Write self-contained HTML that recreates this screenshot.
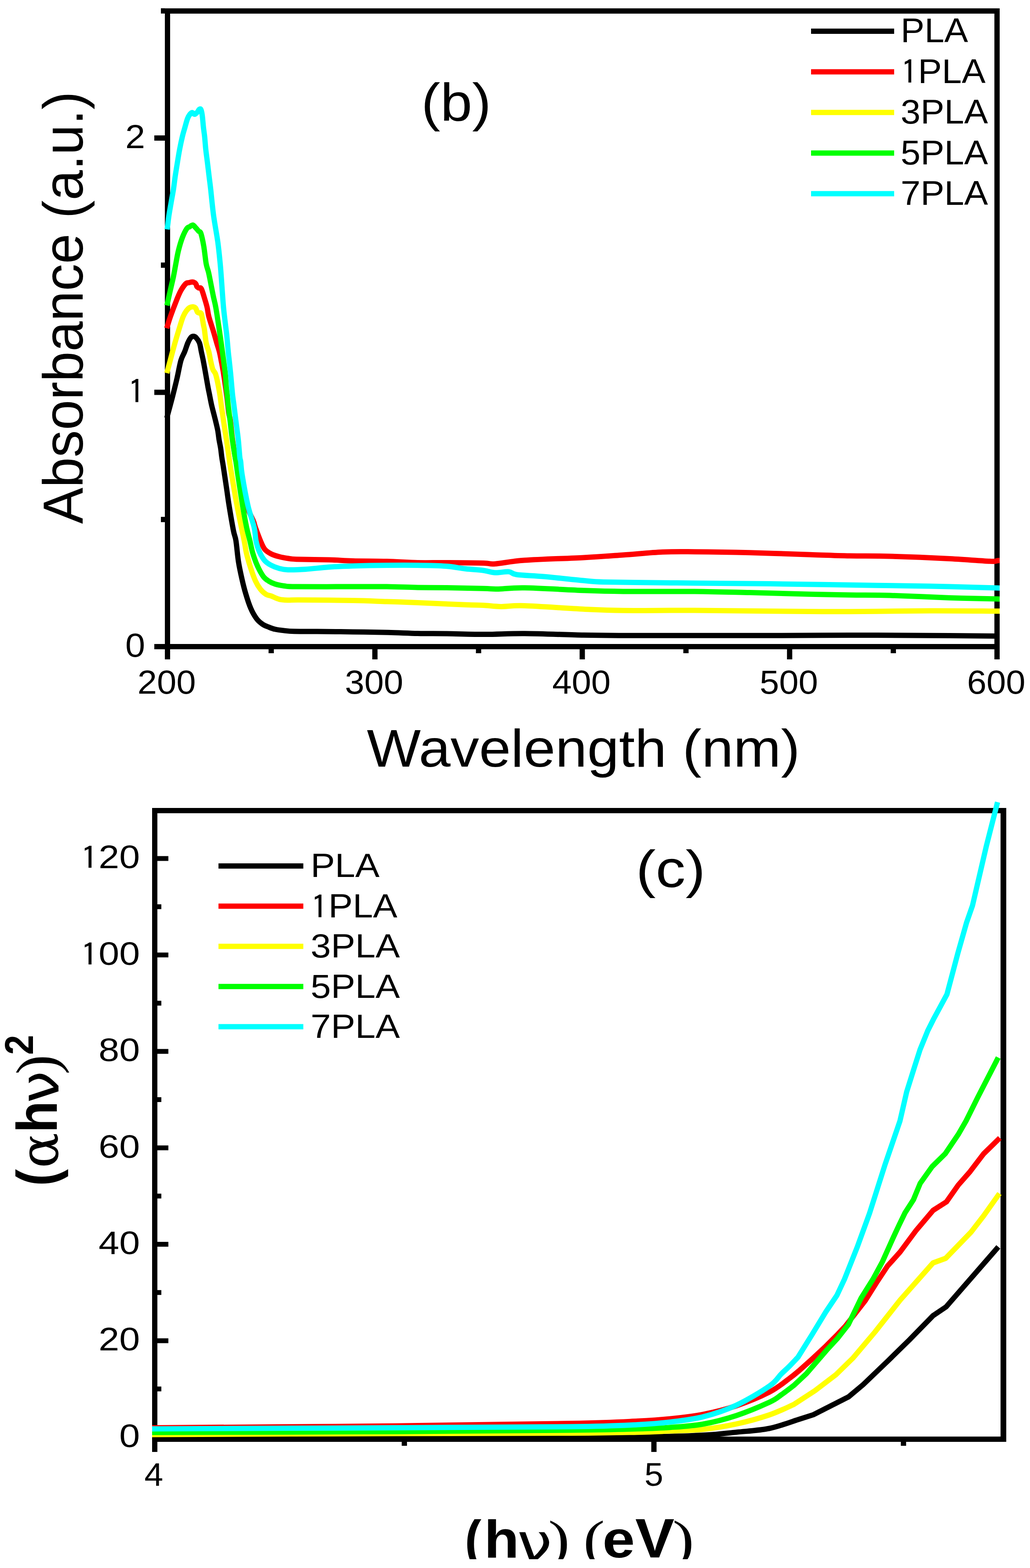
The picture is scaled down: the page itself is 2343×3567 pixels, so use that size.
<!DOCTYPE html><html><head><meta charset="utf-8"><title>UV-Vis absorbance and Tauc plot</title><style>
html,body{margin:0;padding:0;background:#fff;}svg{display:block;}
svg{font-family:'Liberation Sans', Arial, sans-serif;}
.ln{fill:none;stroke-width:12;stroke-linejoin:round;stroke-linecap:square;}
</style></head><body>
<svg width="2343" height="3567" viewBox="0 0 2343 3567">
<rect x="0" y="0" width="2343" height="3567" fill="#fff"/>
<g id="chart-b">
<g fill="#000">
<rect x="375" y="19" width="1899" height="12"/>
<rect x="375" y="19" width="12" height="1458"/>
<rect x="2262" y="19" width="12" height="1458"/>
<rect x="375" y="1465" width="1899" height="12"/>
<rect x="375.0" y="1477" width="12" height="23"/>
<rect x="610.9" y="1477" width="12" height="9"/>
<rect x="846.8" y="1477" width="12" height="23"/>
<rect x="1082.6" y="1477" width="12" height="9"/>
<rect x="1318.5" y="1477" width="12" height="23"/>
<rect x="1554.4" y="1477" width="12" height="9"/>
<rect x="1790.2" y="1477" width="12" height="23"/>
<rect x="2026.1" y="1477" width="12" height="9"/>
<rect x="2262.0" y="1477" width="12" height="23"/>
<rect x="351" y="1465.0" width="24" height="12"/>
<rect x="366" y="1175.8" width="9" height="12"/>
<rect x="351" y="886.5" width="24" height="12"/>
<rect x="366" y="597.2" width="9" height="12"/>
<rect x="351" y="308.0" width="24" height="12"/>
<rect x="366" y="18.8" width="9" height="12"/>
</g>
<path class="ln" stroke="#000000" d="M381.0,945.0C383.0,937.5 389.4,914.2 393.0,900.0C396.6,885.8 399.7,873.3 402.8,860.0C405.9,846.7 408.6,830.0 411.5,820.0C414.4,810.0 417.5,806.7 420.1,800.0C422.7,793.3 425.0,785.3 427.3,780.0C429.6,774.7 431.9,770.5 434.0,768.0C436.1,765.5 438.0,765.0 440.0,765.0C442.0,765.0 443.7,765.5 446.0,768.0C448.3,770.5 451.7,774.7 453.7,780.0C455.7,785.3 456.6,793.3 458.0,800.0C459.4,806.7 461.0,813.3 462.3,820.0C463.6,826.7 464.8,833.3 466.0,840.0C467.2,846.7 468.3,853.3 469.5,860.0C470.7,866.7 471.8,873.3 473.0,880.0C474.2,886.7 475.7,893.3 477.0,900.0C478.3,906.7 479.5,913.3 481.0,920.0C482.5,926.7 484.3,933.3 486.0,940.0C487.7,946.7 489.4,953.3 491.0,960.0C492.6,966.7 494.3,973.3 495.5,980.0C496.7,986.7 497.2,993.3 498.3,1000.0C499.4,1006.7 501.0,1013.3 502.0,1020.0C503.0,1026.7 503.7,1034.2 504.5,1040.0C505.3,1045.8 505.9,1048.3 507.0,1055.0C508.1,1061.7 509.3,1070.0 510.8,1080.0C512.3,1090.0 514.3,1103.3 516.0,1115.0C517.7,1126.7 518.6,1134.7 521.1,1150.0C523.6,1165.3 528.4,1193.7 531.0,1207.0C533.6,1220.3 534.8,1218.2 536.7,1230.0C538.6,1241.8 540.2,1263.6 542.5,1278.0C544.8,1292.4 547.5,1304.4 550.2,1316.4C552.9,1328.4 555.4,1338.8 558.8,1350.0C562.1,1361.2 566.1,1374.0 570.3,1383.6C574.4,1393.2 579.2,1401.4 583.7,1407.5C588.2,1413.6 592.6,1416.8 597.2,1420.0C601.9,1423.2 606.8,1424.8 611.6,1426.7C616.4,1428.6 620.4,1430.2 626.0,1431.5C631.6,1432.8 638.0,1433.6 645.2,1434.4C652.4,1435.2 656.4,1436.0 669.2,1436.3C682.0,1436.6 699.7,1436.3 721.9,1436.5C744.1,1436.7 775.6,1437.1 802.5,1437.5C829.4,1437.9 858.4,1438.2 883.0,1438.8C907.6,1439.4 928.2,1440.5 950.0,1441.0C971.8,1441.5 988.4,1441.2 1014.0,1441.5C1039.7,1441.8 1074.0,1443.0 1103.9,1443.0C1133.8,1443.0 1156.2,1440.9 1193.5,1441.2C1230.8,1441.5 1290.5,1444.0 1327.8,1444.8C1365.1,1445.5 1375.4,1445.5 1417.4,1445.7C1459.4,1445.9 1524.3,1445.7 1580.0,1445.7C1635.7,1445.7 1692.8,1445.9 1751.7,1445.8C1810.6,1445.7 1872.9,1444.9 1933.4,1444.9C1994.0,1444.9 2059.2,1445.5 2115.0,1445.8C2170.8,1446.1 2242.5,1446.8 2268.0,1447.0"/>
<path class="ln" stroke="#ff0000" d="M381.0,741.0C382.1,737.5 384.1,730.2 387.7,720.0C391.3,709.8 398.8,690.0 402.8,680.0C406.9,670.0 408.6,665.8 412.0,660.0C415.4,654.2 420.0,647.8 423.0,645.0C426.0,642.2 427.5,643.6 430.0,643.0C432.5,642.4 435.5,641.2 438.0,641.5C440.5,641.8 443.3,643.2 445.0,645.0C446.7,646.8 446.8,650.3 448.0,652.0C449.2,653.7 450.3,654.2 452.0,655.0C453.7,655.8 455.7,652.8 458.0,657.0C460.3,661.2 463.5,672.8 465.7,680.0C467.9,687.2 469.8,693.3 471.3,700.0C472.9,706.7 472.6,710.8 475.0,720.0C477.4,729.2 482.8,745.0 485.8,755.0C488.8,765.0 490.8,772.5 493.0,780.0C495.2,787.5 497.3,793.3 499.0,800.0C500.7,806.7 501.5,811.7 503.1,820.0C504.7,828.3 506.5,836.7 508.6,850.0C510.7,863.3 513.7,885.0 515.7,900.0C517.7,915.0 519.0,930.7 520.4,940.0C521.8,949.3 522.6,946.0 524.0,956.0C525.4,966.0 526.8,984.3 529.0,1000.0C531.2,1015.7 533.5,1033.3 537.0,1050.0C540.5,1066.7 546.0,1083.3 550.0,1100.0C554.0,1116.7 556.6,1135.8 561.0,1150.0C565.4,1164.2 573.0,1176.7 576.3,1185.0C579.6,1193.3 578.3,1192.5 581.0,1200.0C583.7,1207.5 588.9,1221.8 592.4,1230.0C595.9,1238.2 598.0,1244.2 602.0,1249.2C606.0,1254.2 610.8,1256.9 616.4,1259.8C622.0,1262.7 629.2,1264.8 635.6,1266.5C642.0,1268.2 648.4,1269.3 654.8,1270.3C661.2,1271.2 658.4,1271.7 674.0,1272.2C689.6,1272.7 727.3,1272.9 748.7,1273.5C770.1,1274.1 780.6,1275.4 802.5,1276.0C824.4,1276.6 855.4,1276.3 880.0,1277.0C904.6,1277.7 927.6,1279.5 950.0,1280.0C972.4,1280.5 989.3,1279.8 1014.3,1280.0C1039.3,1280.2 1081.3,1280.5 1100.0,1281.0C1118.7,1281.5 1110.7,1283.8 1126.3,1282.7C1141.9,1281.6 1159.9,1277.0 1193.5,1274.6C1227.1,1272.2 1290.5,1270.4 1327.8,1268.4C1365.1,1266.4 1387.5,1264.6 1417.4,1262.5C1447.3,1260.4 1479.9,1257.0 1507.0,1255.8C1534.1,1254.6 1546.8,1255.0 1580.0,1255.2C1613.2,1255.4 1662.5,1256.1 1706.3,1257.2C1750.1,1258.3 1804.8,1260.6 1842.6,1261.8C1880.4,1263.0 1903.1,1263.9 1933.4,1264.5C1963.7,1265.1 1986.5,1264.3 2024.3,1265.4C2062.2,1266.5 2122.7,1269.0 2160.5,1270.9C2198.3,1272.8 2233.5,1276.0 2251.4,1276.8C2269.3,1277.6 2265.2,1275.7 2268.0,1275.5"/>
<path class="ln" stroke="#ffff00" d="M381.0,843.0C382.0,839.2 384.4,830.5 387.2,820.0C390.0,809.5 394.2,793.3 398.0,780.0C401.8,766.7 406.9,750.0 410.0,740.0C413.1,730.0 414.4,725.5 416.7,720.0C419.0,714.5 421.6,710.3 424.0,707.0C426.4,703.7 428.5,701.5 431.0,700.0C433.5,698.5 436.7,697.8 439.0,698.0C441.3,698.2 443.3,699.0 445.0,701.0C446.7,703.0 447.7,708.2 449.0,710.0C450.3,711.8 451.5,711.3 453.0,712.0C454.5,712.7 456.3,709.3 458.0,714.0C459.7,718.7 461.8,734.0 463.0,740.0C464.2,746.0 464.1,743.3 465.1,750.0C466.1,756.7 467.4,771.7 469.0,780.0C470.6,788.3 473.3,793.3 475.0,800.0C476.7,806.7 477.5,813.3 479.0,820.0C480.5,826.7 482.2,835.0 484.0,840.0C485.8,845.0 488.3,845.8 490.0,850.0C491.7,854.2 492.8,860.0 494.0,865.0C495.2,870.0 495.9,874.2 497.0,880.0C498.1,885.8 499.5,893.3 500.5,900.0C501.5,906.7 502.2,913.3 503.1,920.0C504.0,926.7 505.0,933.3 506.0,940.0C507.0,946.7 507.9,953.3 508.9,960.0C509.9,966.7 511.0,973.3 512.0,980.0C513.0,986.7 514.1,993.3 515.1,1000.0C516.1,1006.7 517.0,1013.3 518.0,1020.0C519.0,1026.7 520.1,1034.2 520.9,1040.0C521.7,1045.8 522.0,1048.3 523.0,1055.0C524.0,1061.7 524.4,1064.2 527.1,1080.0C529.8,1095.8 534.4,1125.0 539.1,1150.0C543.8,1175.0 551.8,1211.9 555.4,1230.0C559.0,1248.1 558.2,1248.4 560.7,1258.8C563.2,1269.2 566.9,1282.0 570.3,1292.4C573.7,1302.8 577.2,1313.2 580.9,1321.2C584.6,1329.2 588.4,1335.3 592.4,1340.4C596.4,1345.5 600.9,1349.4 604.9,1351.9C608.9,1354.5 611.3,1353.8 616.4,1355.7C621.5,1357.6 629.2,1361.8 635.6,1363.4C642.0,1365.0 647.4,1365.1 654.8,1365.3C662.2,1365.5 655.4,1364.7 680.0,1364.8C704.6,1364.9 769.2,1365.4 802.5,1366.0C835.8,1366.6 855.4,1367.7 880.0,1368.5C904.6,1369.3 920.2,1369.8 950.0,1371.0C979.8,1372.2 1034.0,1374.8 1059.0,1375.8C1084.0,1376.8 1086.5,1376.3 1100.0,1377.0C1113.5,1377.7 1124.1,1379.7 1139.7,1379.9C1155.3,1380.1 1162.2,1377.0 1193.5,1378.0C1224.8,1379.0 1290.5,1383.9 1327.8,1385.7C1365.1,1387.5 1375.4,1388.3 1417.4,1388.8C1459.4,1389.3 1524.3,1388.2 1580.0,1388.5C1635.7,1388.8 1692.8,1389.8 1751.7,1390.3C1810.6,1390.8 1872.9,1391.4 1933.4,1391.3C1994.0,1391.2 2059.2,1389.6 2115.0,1389.4C2170.8,1389.2 2242.5,1390.2 2268.0,1390.3"/>
<path class="ln" stroke="#00ff00" d="M381.0,689.0C382.1,684.2 385.3,669.8 387.5,660.0C389.7,650.2 392.3,640.0 394.4,630.0C396.5,620.0 398.1,610.0 400.0,600.0C401.9,590.0 403.4,580.0 405.9,570.0C408.4,560.0 411.8,548.3 415.0,540.0C418.2,531.7 422.2,524.0 424.9,520.0C427.6,516.0 428.7,517.3 431.0,516.0C433.3,514.7 436.3,511.5 438.8,512.0C441.3,512.5 443.8,516.7 446.0,519.0C448.2,521.3 450.2,524.0 452.0,526.0C453.8,528.0 455.1,525.3 457.0,531.0C458.9,536.7 461.5,548.5 463.5,560.0C465.5,571.5 467.2,590.0 469.0,600.0C470.8,610.0 472.6,611.7 474.5,620.0C476.4,628.3 478.7,640.8 480.5,650.0C482.3,659.2 483.8,666.7 485.5,675.0C487.2,683.3 488.8,687.5 491.0,700.0C493.2,712.5 496.3,733.3 498.8,750.0C501.3,766.7 503.6,783.3 505.9,800.0C508.2,816.7 511.0,836.7 512.5,850.0C514.0,863.3 514.0,871.7 514.8,880.0C515.5,888.3 516.3,893.3 517.0,900.0C517.7,906.7 517.8,910.0 518.9,920.0C520.0,930.0 522.1,946.7 523.7,960.0C525.3,973.3 526.6,986.7 528.5,1000.0C530.4,1013.3 533.4,1031.7 534.8,1040.0C536.2,1048.3 535.7,1043.3 536.7,1050.0C537.7,1056.7 538.5,1063.3 541.0,1080.0C543.5,1096.7 548.5,1130.0 551.8,1150.0C555.1,1170.0 558.2,1186.7 561.0,1200.0C563.8,1213.3 566.0,1220.2 568.4,1230.0C570.8,1239.8 572.2,1249.2 575.1,1258.8C578.0,1268.4 581.7,1278.8 585.7,1287.6C589.7,1296.4 594.8,1305.8 599.1,1311.6C603.4,1317.3 607.1,1319.2 611.6,1322.1C616.1,1325.0 620.4,1327.0 626.0,1328.8C631.6,1330.6 637.2,1331.7 645.2,1332.7C653.2,1333.7 647.8,1334.3 674.0,1334.6C700.2,1334.9 768.2,1334.5 802.5,1334.5C836.8,1334.5 855.4,1334.2 880.0,1334.5C904.6,1334.8 927.6,1336.0 950.0,1336.4C972.4,1336.8 989.3,1336.6 1014.3,1337.0C1039.3,1337.4 1080.6,1338.3 1100.0,1338.8C1119.4,1339.3 1115.2,1340.2 1130.8,1340.0C1146.4,1339.8 1160.7,1336.8 1193.5,1337.3C1226.3,1337.8 1290.5,1341.8 1327.8,1343.2C1365.1,1344.6 1375.4,1345.0 1417.4,1345.4C1459.4,1345.8 1531.8,1345.0 1580.0,1345.5C1628.2,1346.0 1662.5,1347.1 1706.3,1348.1C1750.1,1349.1 1804.8,1350.8 1842.6,1351.7C1880.4,1352.6 1903.1,1353.0 1933.4,1353.5C1963.7,1354.0 1986.5,1353.4 2024.3,1354.5C2062.2,1355.6 2119.9,1358.6 2160.5,1359.9C2201.1,1361.2 2250.1,1362.1 2268.0,1362.5"/>
<path class="ln" stroke="#00ffff" d="M381.0,516.0C381.6,511.7 382.9,499.3 384.3,490.0C385.7,480.7 387.7,470.0 389.4,460.0C391.1,450.0 393.1,440.0 394.7,430.0C396.2,420.0 397.2,410.0 398.7,400.0C400.2,390.0 401.9,380.0 403.5,370.0C405.1,360.0 406.7,350.0 408.6,340.0C410.5,330.0 413.0,318.3 415.0,310.0C417.0,301.7 418.7,296.7 420.6,290.0C422.5,283.3 424.6,275.0 426.5,270.0C428.4,265.0 430.2,262.3 432.0,260.0C433.8,257.7 435.2,256.0 437.0,256.0C438.8,256.0 441.0,260.2 443.0,260.0C445.0,259.8 447.3,256.8 449.0,255.0C450.7,253.2 451.7,250.0 453.0,249.0C454.3,248.0 455.8,246.8 457.0,249.0C458.2,251.2 459.0,255.2 460.0,262.0C461.0,268.8 461.9,282.0 462.8,290.0C463.7,298.0 464.5,301.7 465.4,310.0C466.3,318.3 467.0,330.0 468.1,340.0C469.2,350.0 470.7,360.0 471.9,370.0C473.1,380.0 474.3,390.0 475.5,400.0C476.7,410.0 477.5,415.0 479.2,430.0C480.9,445.0 483.1,470.0 485.8,490.0C488.5,510.0 492.9,531.7 495.4,550.0C497.9,568.3 499.6,586.7 500.9,600.0C502.2,613.3 502.0,613.3 503.3,630.0C504.6,646.7 506.5,678.3 508.5,700.0C510.5,721.7 513.7,743.3 515.5,760.0C517.3,776.7 518.2,790.0 519.2,800.0C520.2,810.0 520.5,811.7 521.4,820.0C522.3,828.3 523.6,840.0 524.6,850.0C525.6,860.0 526.5,871.7 527.3,880.0C528.1,888.3 528.4,893.3 529.2,900.0C530.0,906.7 530.6,910.0 531.9,920.0C533.2,930.0 535.2,946.7 536.9,960.0C538.6,973.3 540.6,986.7 542.0,1000.0C543.4,1013.3 544.6,1031.7 545.5,1040.0C546.4,1048.3 546.6,1043.3 547.5,1050.0C548.4,1056.7 548.0,1063.3 550.8,1080.0C553.5,1096.7 559.4,1130.0 564.0,1150.0C568.6,1170.0 575.2,1186.7 578.2,1200.0C581.2,1213.3 580.4,1221.0 582.3,1230.0C584.2,1239.0 586.2,1246.5 589.5,1254.0C592.8,1261.5 597.5,1269.8 602.0,1275.1C606.5,1280.4 610.8,1282.7 616.4,1285.7C622.0,1288.7 629.2,1291.5 635.6,1293.3C642.0,1295.0 644.9,1295.9 654.8,1296.2C664.7,1296.5 679.4,1296.0 695.0,1295.0C710.6,1294.0 730.8,1291.2 748.7,1290.0C766.6,1288.8 780.6,1288.2 802.5,1287.5C824.4,1286.8 855.4,1286.2 880.0,1286.0C904.6,1285.8 927.6,1285.7 950.0,1286.0C972.4,1286.3 996.1,1286.7 1014.3,1288.0C1032.5,1289.3 1044.7,1292.4 1059.0,1294.0C1073.3,1295.6 1088.8,1296.2 1100.0,1297.7C1111.2,1299.2 1116.7,1302.3 1126.3,1302.8C1135.9,1303.3 1149.4,1299.8 1157.6,1300.6C1165.8,1301.3 1162.1,1305.4 1175.6,1307.3C1189.0,1309.2 1212.9,1309.5 1238.3,1311.8C1263.7,1314.0 1305.4,1318.8 1327.8,1320.8C1350.2,1322.8 1342.7,1323.2 1372.6,1324.0C1402.5,1324.8 1472.4,1325.3 1507.0,1325.7C1541.6,1326.1 1539.2,1326.1 1580.0,1326.5C1620.8,1326.9 1692.8,1327.4 1751.7,1328.1C1810.6,1328.8 1872.9,1329.9 1933.4,1330.8C1994.0,1331.7 2059.2,1332.5 2115.0,1333.6C2170.8,1334.7 2242.5,1336.8 2268.0,1337.5"/>
<g transform="matrix(1.0080,0,0,0.9614,379.20,1577.74)"><text font-size="79" text-anchor="middle">200</text></g>
<g transform="matrix(1.0080,0,0,0.9614,850.95,1577.74)"><text font-size="79" text-anchor="middle">300</text></g>
<g transform="matrix(1.0080,0,0,0.9614,1322.70,1577.74)"><text font-size="79" text-anchor="middle">400</text></g>
<g transform="matrix(1.0080,0,0,0.9614,1794.45,1577.74)"><text font-size="79" text-anchor="middle">500</text></g>
<g transform="matrix(1.0080,0,0,0.9614,2266.20,1577.74)"><text font-size="79" text-anchor="middle">600</text></g>
<g transform="matrix(1.0278,0,0,0.9643,330.11,1494.00)"><text font-size="79" text-anchor="end">0</text></g>
<g transform="matrix(1.0278,0,0,0.9643,330.11,915.50)"><text font-size="79" text-anchor="end"><tspan style="font-family:IPAGothic" font-size="77" dy="3.2">1</tspan></text></g>
<g transform="matrix(1.0278,0,0,0.9643,330.11,337.00)"><text font-size="79" text-anchor="end">2</text></g>
<g transform="matrix(1.0005,0,0,0.9248,1327.15,1743.83)"><text font-size="130" text-anchor="middle">Wavelength (nm)</text></g>
<g transform="matrix(1.0284,0,0,0.9981,188.36,699.96)"><text transform="rotate(-90)" font-size="124" text-anchor="middle">Absorbance (a.u.)</text></g>
<g transform="matrix(1.0420,0,0,0.9672,1037.90,273.85)"><text font-size="125" text-anchor="middle">(b)</text></g>
<rect x="1845" y="65.0" width="189" height="12" fill="#000000"/>
<g transform="matrix(1.0279,0,0,0.9800,2048.75,96.35)"><text font-size="79">PLA</text></g>
<rect x="1845" y="157.4" width="189" height="12" fill="#ff0000"/>
<g transform="matrix(1.0279,0,0,0.9800,2048.75,188.80)"><text font-size="79"><tspan style="font-family:IPAGothic" font-size="77" dy="3.2">1</tspan><tspan dy="-3.2">PLA</tspan></text></g>
<rect x="1845" y="249.8" width="189" height="12" fill="#ffff00"/>
<g transform="matrix(1.0279,0,0,0.9800,2048.75,281.25)"><text font-size="79">3PLA</text></g>
<rect x="1845" y="342.2" width="189" height="12" fill="#00ff00"/>
<g transform="matrix(1.0279,0,0,0.9800,2048.75,373.70)"><text font-size="79">5PLA</text></g>
<rect x="1845" y="434.6" width="189" height="12" fill="#00ffff"/>
<g transform="matrix(1.0279,0,0,0.9800,2048.75,466.15)"><text font-size="79">7PLA</text></g>
</g>
<g id="chart-c">
<g fill="#000">
<rect x="346" y="1838" width="1943" height="12"/>
<rect x="346" y="1838" width="12" height="1442"/>
<rect x="2276" y="1838" width="13" height="1442"/>
<rect x="346" y="3268" width="1943" height="12"/>
<rect x="346.0" y="3280" width="12" height="23"/>
<rect x="913.8" y="3280" width="12" height="9"/>
<rect x="1481.5" y="3280" width="12" height="23"/>
<rect x="2049.2" y="3280" width="12" height="9"/>
<rect x="358" y="3263.9" width="25" height="11"/>
<rect x="358" y="3154.2" width="9" height="11"/>
<rect x="358" y="3044.5" width="25" height="11"/>
<rect x="358" y="2934.8" width="9" height="11"/>
<rect x="358" y="2825.1" width="25" height="11"/>
<rect x="358" y="2715.4" width="9" height="11"/>
<rect x="358" y="2605.7" width="25" height="11"/>
<rect x="358" y="2496.0" width="9" height="11"/>
<rect x="358" y="2386.3" width="25" height="11"/>
<rect x="358" y="2276.6" width="9" height="11"/>
<rect x="358" y="2166.9" width="25" height="11"/>
<rect x="358" y="2057.2" width="9" height="11"/>
<rect x="358" y="1947.5" width="25" height="11"/>
</g>
<path class="ln" stroke="#000000" d="M352.0,3268.0C443.3,3268.2 742.0,3268.8 900.0,3269.0C1058.0,3269.2 1200.0,3269.2 1300.0,3269.0C1400.0,3268.8 1450.0,3268.7 1500.0,3268.0C1550.0,3267.3 1570.8,3266.5 1600.0,3264.8C1629.2,3263.2 1650.0,3260.7 1675.0,3258.1C1700.0,3255.5 1726.6,3254.3 1750.0,3249.5C1773.4,3244.7 1804.3,3232.8 1815.2,3229.5L1850.0,3218.4L1872.7,3206.9L1930.3,3177.7L1963.3,3150.0L2019.7,3096.0L2068.7,3048.0L2122.4,2993.0L2152.2,2972.9L2267.0,2841.0"/>
<path class="ln" stroke="#ff0000" d="M352.0,3248.0C443.3,3247.3 742.0,3245.4 900.0,3243.7C1058.0,3242.0 1208.3,3239.8 1300.0,3238.0C1391.7,3236.2 1412.5,3234.6 1450.0,3232.8C1487.5,3231.1 1500.0,3230.1 1525.0,3227.5C1550.0,3224.9 1575.0,3222.3 1600.0,3217.4C1625.0,3212.5 1650.0,3206.4 1675.0,3198.0C1700.0,3189.6 1729.8,3177.4 1750.0,3167.0C1770.2,3156.6 1784.7,3143.7 1796.0,3135.5C1807.3,3127.3 1814.2,3120.9 1817.9,3118.0L1847.2,3091.8L1876.0,3064.9L1905.7,3035.2L1923.0,3016.9L1968.0,2959.1L1993.6,2918.2L2019.1,2879.8L2047.6,2848.0L2083.2,2800.0L2122.6,2753.4L2153.0,2734.0L2179.8,2695.9L2206.7,2665.2L2237.4,2624.9L2270.0,2593.0"/>
<path class="ln" stroke="#ffff00" d="M352.0,3263.5C443.3,3263.1 742.0,3261.7 900.0,3261.2C1058.0,3260.7 1208.3,3260.8 1300.0,3260.3C1391.7,3259.8 1412.5,3259.0 1450.0,3258.2C1487.5,3257.4 1500.0,3256.4 1525.0,3255.3C1550.0,3254.2 1575.0,3254.2 1600.0,3251.5C1625.0,3248.8 1650.0,3244.8 1675.0,3239.4C1700.0,3234.0 1728.2,3226.2 1750.0,3218.8C1771.8,3211.4 1796.3,3199.0 1805.6,3195.0L1853.6,3163.7L1901.5,3127.2L1939.9,3089.8L1990.0,3030.5L2047.6,2957.5L2122.4,2873.0L2151.2,2862.5L2208.8,2803.0L2237.4,2766.0L2270.0,2720.0"/>
<path class="ln" stroke="#00ff00" d="M352.0,3258.7C443.3,3258.4 742.0,3257.5 900.0,3256.7C1058.0,3255.8 1208.3,3254.6 1300.0,3253.6C1391.7,3252.6 1412.5,3251.6 1450.0,3250.5C1487.5,3249.4 1500.0,3249.0 1525.0,3247.2C1550.0,3245.4 1575.0,3244.0 1600.0,3239.5C1625.0,3235.0 1650.0,3228.4 1675.0,3220.2C1700.0,3211.9 1733.0,3197.8 1750.0,3190.0C1767.0,3182.2 1767.5,3179.7 1776.8,3173.3C1786.1,3166.9 1800.8,3155.4 1805.6,3151.8L1834.4,3124.9L1854.9,3101.0L1880.8,3071.0L1904.8,3045.0L1929.7,3013.4L1959.0,2952.7L1985.8,2910.0L2007.4,2870.0L2031.6,2816.0L2045.0,2787.2L2059.0,2758.4L2077.7,2729.6L2093.2,2692.0L2120.6,2653.6L2150.0,2624.8L2179.8,2580.7L2197.5,2550.0L2224.0,2496.7L2268.0,2411.0"/>
<path class="ln" stroke="#00ffff" d="M352.0,3250.5C443.3,3250.1 742.0,3248.8 900.0,3248.0C1058.0,3247.2 1208.3,3246.7 1300.0,3245.5C1391.7,3244.3 1412.5,3242.7 1450.0,3240.9C1487.5,3239.1 1500.0,3237.9 1525.0,3234.9C1550.0,3231.9 1575.0,3229.3 1600.0,3222.9C1625.0,3216.5 1650.0,3208.3 1675.0,3196.7C1700.0,3185.1 1733.0,3165.0 1750.0,3153.2C1767.0,3141.4 1769.5,3133.1 1776.8,3125.9C1784.1,3118.7 1787.2,3116.4 1793.6,3110.0C1800.0,3103.6 1811.6,3091.2 1815.2,3087.5L1846.7,3036.8L1878.4,2984.7L1904.0,2946.3L1921.0,2910.0L1950.1,2836.8L1978.0,2760.0L2013.0,2650.0L2047.2,2550.0L2062.4,2484.0L2080.0,2428.0L2092.8,2388.0L2110.4,2344.8L2123.2,2319.2L2154.0,2262.2L2179.0,2168.0L2198.8,2098.4L2212.2,2060.0L2243.6,1925.2L2267.7,1830.5"/>
<g transform="matrix(1.0702,0,0,0.9368,318.21,3291.86)"><text font-size="79" text-anchor="end">0</text></g>
<g transform="matrix(1.0702,0,0,0.9368,318.21,3072.46)"><text font-size="79" text-anchor="end">20</text></g>
<g transform="matrix(1.0702,0,0,0.9368,318.21,2853.06)"><text font-size="79" text-anchor="end">40</text></g>
<g transform="matrix(1.0702,0,0,0.9368,318.21,2633.66)"><text font-size="79" text-anchor="end">60</text></g>
<g transform="matrix(1.0702,0,0,0.9368,318.21,2414.26)"><text font-size="79" text-anchor="end">80</text></g>
<g transform="matrix(1.0702,0,0,0.9368,318.21,2194.86)"><text font-size="79" text-anchor="end"><tspan style="font-family:IPAGothic" font-size="77" dy="3.2">1</tspan><tspan dy="-3.2">00</tspan></text></g>
<g transform="matrix(1.0702,0,0,0.9368,318.21,1975.46)"><text font-size="79" text-anchor="end"><tspan style="font-family:IPAGothic" font-size="77" dy="3.2">1</tspan><tspan dy="-3.2">20</tspan></text></g>
<g transform="matrix(0.9737,0,0,0.9429,350.00,3379.86)"><text font-size="79" text-anchor="middle">4</text></g>
<g transform="matrix(0.9737,0,0,0.9429,1487.50,3379.86)"><text font-size="79" text-anchor="middle">5</text></g>
<g transform="matrix(1.0846,0,0,0.9517,1525.50,2017.66)"><text font-size="125" text-anchor="middle">(c)</text></g>
<rect x="497" y="1964.0" width="193" height="12" fill="#000000"/>
<g transform="matrix(1.0514,0,0,0.9582,706.44,1995.15)"><text font-size="79">PLA</text></g>
<rect x="497" y="2055.4" width="193" height="12" fill="#ff0000"/>
<g transform="matrix(1.0514,0,0,0.9582,706.44,2086.60)"><text font-size="79"><tspan style="font-family:IPAGothic" font-size="77" dy="3.2">1</tspan><tspan dy="-3.2">PLA</tspan></text></g>
<rect x="497" y="2146.8" width="193" height="12" fill="#ffff00"/>
<g transform="matrix(1.0514,0,0,0.9582,706.44,2178.05)"><text font-size="79">3PLA</text></g>
<rect x="497" y="2238.2" width="193" height="12" fill="#00ff00"/>
<g transform="matrix(1.0514,0,0,0.9582,706.44,2269.50)"><text font-size="79">5PLA</text></g>
<rect x="497" y="2329.6" width="193" height="12" fill="#00ffff"/>
<g transform="matrix(1.0514,0,0,0.9582,706.44,2360.95)"><text font-size="79">7PLA</text></g>
<g transform="matrix(0.9441,0,0,0.9989,1057.24,3543.90)"><text font-size="120" font-weight="bold">(</text></g>
<g transform="matrix(1.0862,0,0,0.9989,1101.21,3543.90)"><text font-size="120" font-weight="bold">h</text></g>
<g transform="matrix(1.1911,0,0,0.9989,1176.04,3550.93)"><text font-size="120" style="font-family:'DejaVu Sans', 'Liberation Sans', sans-serif">ν</text></g>
<g transform="matrix(1.2258,0,0,0.9989,1247.00,3542.60)"><text font-size="120" style="font-family:'Liberation Serif', 'DejaVu Serif', serif">)</text></g>
<g transform="matrix(1.2258,0,0,0.9989,1326.77,3542.90)"><text font-size="120" style="font-family:'Liberation Serif', 'DejaVu Serif', serif">(</text></g>
<g transform="matrix(1.1034,0,0,0.9864,1370.38,3542.81)"><text font-size="120" font-weight="bold">e</text></g>
<g transform="matrix(1.1128,0,0,1.0470,1445.09,3542.90)"><text font-size="120" font-weight="bold">V</text></g>
<g transform="matrix(1.2323,0,0,0.9989,1529.87,3542.90)"><text font-size="120" style="font-family:'Liberation Serif', 'DejaVu Serif', serif">)</text></g>
<g transform="matrix(1.0708,0,0,0.9636,128.23,2698.18)"><text transform="rotate(-90)" font-size="120" font-weight="bold">(</text></g>
<g transform="matrix(1.0108,0,0,0.9972,131.99,2657.48)"><text transform="rotate(-90)" font-size="120" style="font-family:'DejaVu Serif', 'Liberation Serif', serif">α</text></g>
<g transform="matrix(1.0795,0,0,0.9879,129.00,2576.90)"><text transform="rotate(-90)" font-size="120" font-weight="bold">h</text></g>
<g transform="matrix(1.0231,0,0,1.0929,133.00,2509.46)"><text transform="rotate(-90)" font-size="120" style="font-family:'DejaVu Sans', 'Liberation Sans', sans-serif">ν</text></g>
<g transform="matrix(1.1065,0,0,1.1226,128.84,2444.29)"><text transform="rotate(-90)" font-size="120" style="font-family:'Liberation Serif', 'DejaVu Serif', serif">)</text></g>
<g transform="matrix(1.0172,0,0,0.9047,74.90,2399.41)"><text transform="rotate(-90)" font-size="90" font-weight="bold">2</text></g>
</g>
<rect x="0" y="3547" width="2343" height="20" fill="#fff"/>
</svg></body></html>
